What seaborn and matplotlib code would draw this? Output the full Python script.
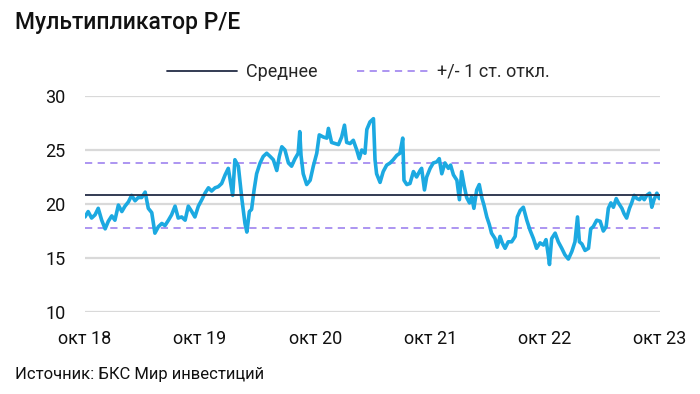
import numpy as np
import pandas as pd
import matplotlib
matplotlib.use("Agg")
import matplotlib.pyplot as plt
import seaborn as sns

# P/E readings: day offset from 2018-10-01 and value
day_offsets = [
    0, 10, 21, 32, 42, 53, 64, 74, 85, 95, 106, 117, 127, 138, 148, 159, 169, 180, 191, 201,
    212, 222, 233, 244, 254, 265, 275, 286, 296, 307, 318, 328, 339, 349, 360, 371, 381, 392, 402, 413,
    423, 434, 445, 455, 469, 476, 487, 498, 508, 514, 522, 529, 537, 545, 556, 566, 577, 588, 598, 609,
    617, 625, 635, 646, 656, 667, 677, 682, 686, 693, 704, 715, 725, 736, 744, 757, 768, 773, 783, 794,
    805, 815, 824, 831, 842, 852, 863, 871, 879, 889, 895, 905, 916, 921, 926, 937, 947, 958, 969, 979,
    990, 1000, 1009, 1013, 1022, 1032, 1043, 1053, 1064, 1069, 1078, 1085, 1096, 1106, 1117, 1125, 1133, 1143, 1154, 1161,
    1170, 1181, 1189, 1196, 1204, 1212, 1221, 1228, 1235, 1244, 1252, 1260, 1267, 1276, 1284, 1291, 1302, 1309, 1318, 1325,
    1334, 1344, 1355, 1366, 1373, 1382, 1392, 1403, 1413, 1424, 1434, 1445, 1456, 1464, 1472, 1475, 1482, 1493, 1503, 1514,
    1524, 1535, 1546, 1556, 1564, 1570, 1578, 1588, 1599, 1606, 1614, 1625, 1636, 1646, 1655, 1662, 1670, 1678, 1687, 1694,
    1705, 1712, 1720, 1729, 1736, 1744, 1753, 1761, 1768, 1776, 1784, 1793, 1800, 1807, 1816, 1824, 1826,
]
pe_values = [
    18.8, 19.3, 18.7, 19.0, 19.6, 18.5, 17.7, 18.4, 18.9, 18.5, 19.9, 19.3, 19.8, 20.2, 20.8, 20.3, 20.6, 20.6, 21.1, 19.6,
    19.2, 17.3, 17.9, 18.2, 18.0, 18.5, 19.0, 19.8, 18.7, 18.8, 18.5, 19.8, 19.3, 18.8, 19.8, 20.4, 21.0, 21.5, 21.2, 21.5,
    21.6, 21.9, 22.7, 23.3, 20.8, 24.1, 23.5, 20.5, 18.2, 17.4, 19.3, 19.5, 21.3, 22.8, 23.8, 24.4, 24.7, 24.4, 24.1, 23.1,
    24.4, 25.3, 25.0, 23.8, 23.5, 24.2, 24.7, 26.7, 24.5, 22.8, 21.8, 22.2, 23.5, 24.7, 26.4, 26.2, 26.1, 27.0, 25.7, 25.6,
    25.5, 26.2, 27.3, 25.7, 25.6, 25.9, 25.0, 24.2, 25.0, 24.7, 26.9, 27.6, 27.9, 24.1, 22.8, 22.0, 23.0, 23.6, 23.8, 24.1,
    24.5, 24.7, 26.1, 22.2, 21.8, 21.9, 23.0, 22.5, 23.1, 23.3, 21.3, 22.5, 23.3, 23.8, 23.9, 24.2, 22.8, 23.8, 23.3, 23.6,
    22.7, 22.2, 20.4, 23.0, 21.7, 20.6, 20.1, 20.7, 19.6, 21.3, 21.8, 20.6, 19.9, 18.8, 18.1, 17.3, 16.8, 16.0, 17.0, 16.4,
    15.9, 16.5, 16.5, 17.0, 18.8, 19.4, 19.7, 18.5, 17.6, 16.8, 15.9, 16.4, 16.2, 16.7, 15.1, 14.4, 16.8, 17.3, 16.5, 15.9,
    15.3, 14.9, 15.6, 16.5, 18.8, 16.5, 16.3, 15.7, 15.9, 17.7, 17.9, 18.5, 18.4, 17.5, 17.9, 19.6, 20.1, 19.7, 20.5, 20.1,
    19.6, 19.1, 18.7, 19.6, 20.1, 20.8, 20.5, 20.4, 20.7, 20.4, 20.8, 21.0, 19.7, 20.4, 21.0, 20.5, 20.6,
]
mean_pe = 20.8
std_pe = 3.0

start_date = "2018-10-01"
tick_dates = ["2018-10-01", "2019-10-01", "2020-10-01", "2021-10-01", "2022-10-01", "2023-10-01"]
tick_labels = ["окт 18", "окт 19", "окт 20", "окт 21", "окт 22", "окт 23"]
y_ticks = [10, 15, 20, 25, 30]

df = pd.DataFrame({
    "date": pd.Timestamp(start_date) + pd.to_timedelta(day_offsets, unit="D"),
    "pe": pe_values,
})

sns.set_theme(style="white")
plt.rcParams["font.family"] = ["Roboto", "DejaVu Sans"]

fig = plt.figure(figsize=(7, 3.94), dpi=100)
ax = fig.add_axes([85 / 700, 1 - 312 / 394, 575 / 700, 216 / 394])

for yv in y_ticks:
    ax.axhline(yv, color="#d9d9d9", lw=1.6, zorder=0)

ax.axhline(mean_pe + std_pe, color="#a68cf0", lw=1.3, ls=(0, (4, 3)), zorder=1)
ax.axhline(mean_pe - std_pe, color="#a68cf0", lw=1.3, ls=(0, (4, 3)), zorder=1)
sns.lineplot(data=df, x="date", y="pe", ax=ax, color="#1ca9e1", lw=2.6, zorder=2)
ax.axhline(mean_pe, color="#232c45", lw=1.3, zorder=3)

ax.set_xlim(pd.Timestamp(tick_dates[0]), pd.Timestamp(tick_dates[-1]))
ax.set_ylim(10, 30)
ax.set_xticks(pd.to_datetime(tick_dates))
ax.set_xticklabels(tick_labels)
ax.set_yticks(y_ticks)
ax.set_yticklabels([str(v) for v in y_ticks])
ax.tick_params(axis="both", length=0, labelsize=13, colors="#111111")
ax.tick_params(axis="y", pad=14)
ax.tick_params(axis="x", pad=13)
ax.set_xlabel("")
ax.set_ylabel("")
for s in ax.spines.values():
    s.set_visible(False)

h1, = ax.plot([], [], color="#232c45", lw=1.3)
h2, = ax.plot([], [], color="#a68cf0", lw=1.3, ls=(0, (4, 3)))
fig.legend([h1, h2], ["Среднее", "+/- 1 ст. откл."], loc="center", bbox_to_anchor=(358 / 700, 1 - 72 / 394),
           ncol=2, frameon=False, fontsize=13, handlelength=3.9, handletextpad=0.5, columnspacing=2.2)

fig.text(15 / 700, 1 - 22 / 394, "Мультипликатор P/E", fontsize=16.5, fontweight="medium", va="center", ha="left", color="#111111")
fig.text(15 / 700, 1 - 375 / 394, "Источник: БКС Мир инвестиций", fontsize=12, va="center", ha="left", color="#111111")

fig.savefig("out.png", dpi=100)
